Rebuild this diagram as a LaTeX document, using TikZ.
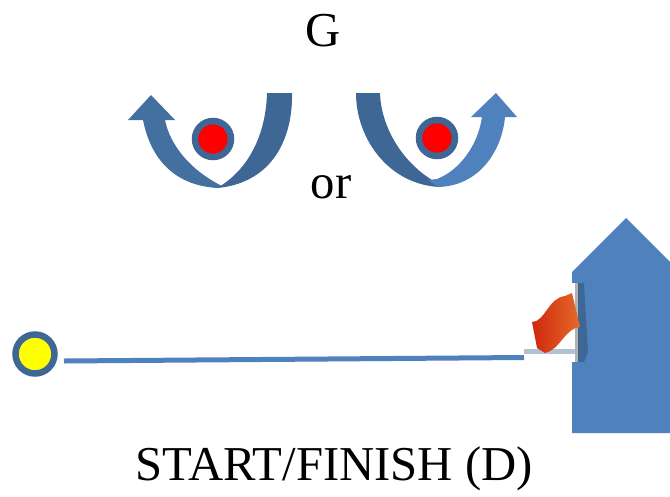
\documentclass[tikz,border=0pt]{standalone}
\usepackage{fontspec}
\setmainfont{Liberation Serif}
\definecolor{dk}{HTML}{3E6795}
\definecolor{md}{HTML}{44709F}
\definecolor{lt}{HTML}{4F81BD}
\definecolor{pureyellow}{HTML}{FFFF00}
\definecolor{flagl}{HTML}{D0280E}
\definecolor{flagm}{HTML}{A81408}
\definecolor{flagr}{HTML}{E56A2A}
\tikzset{
  lbl/.style={inner sep=0pt,text=black,font=\fontsize{48.7}{52}\selectfont},
  ball/.style={circle,draw=dk,line width=6.5pt,minimum size=#1,inner sep=0pt,outer sep=0pt}
}
\begin{document}
\begin{tikzpicture}[x=1pt,y=-1pt]
\useasboundingbox (0,0) rectangle (670,496);
% house
\fill[lt] (572,433) -- (572,272) -- (626,218) -- (670,262) -- (670,433) -- cycle;
% left arrow
\fill[md] (218,188) .. controls (180,186) and (152,165) .. (143,120) -- (128,120) -- (151,95) -- (175,120) -- (165,120)
  .. controls (170,145) and (190,170) .. (222,186) -- cycle;
\fill[dk] (267,93) -- (292,93) .. controls (293,135) and (275,182) .. (218,188) -- (222,185)
  .. controls (252,165) and (266,130) .. (267,93) -- cycle;
% right arrow
\fill[dk] (356,93) -- (380,93) .. controls (381,125) and (400,160) .. (432,180) -- (440,187)
  .. controls (390,185) and (356,140) .. (356,93) -- cycle;
\fill[lt] (437,179) .. controls (460,170) and (478,145) .. (482,117) -- (471,117) -- (496,93) -- (517,117) -- (505,117)
  .. controls (502,150) and (480,186) .. (438,187) -- (428,180) -- cycle;
% red balls
\node[ball=36pt,fill=red] (b1) at (213,139) {};
\node[ball=36pt,fill=red] (b2) at (437,138) {};
% start marker
\node[ball=39pt,fill=pureyellow] (s) at (35,354) {};
% flag
\fill[white] (524,283) rectangle (578,362);
\coordinate (la) at (64,361);
\coordinate (lb) at (524,357.5);
\draw[lt,line width=5pt] (la) -- (lb);
\fill[white!60!dk] (524,349) rectangle (578,354);
\fill[dk] (578,283) -- (584,283) -- (588,352) -- (584,362) -- (578,362) -- cycle;
\fill[gray!60] (575,283) rectangle (578,362);
\shade[left color=flagl,middle color=flagm,right color=flagr]
  (532,322) .. controls (545,322) and (548,298) .. (565,296) -- (572,293) -- (580,327)
  .. controls (565,328) and (560,350) .. (545,353) -- (537,348) -- cycle;
% labels
\node[lbl] (g) at (323,31) {G};
\node[lbl] (or) at (331,187) {or};
\node[lbl] (cap) at (334,469) {START/FINISH (D)};
\end{tikzpicture}
\end{document}
